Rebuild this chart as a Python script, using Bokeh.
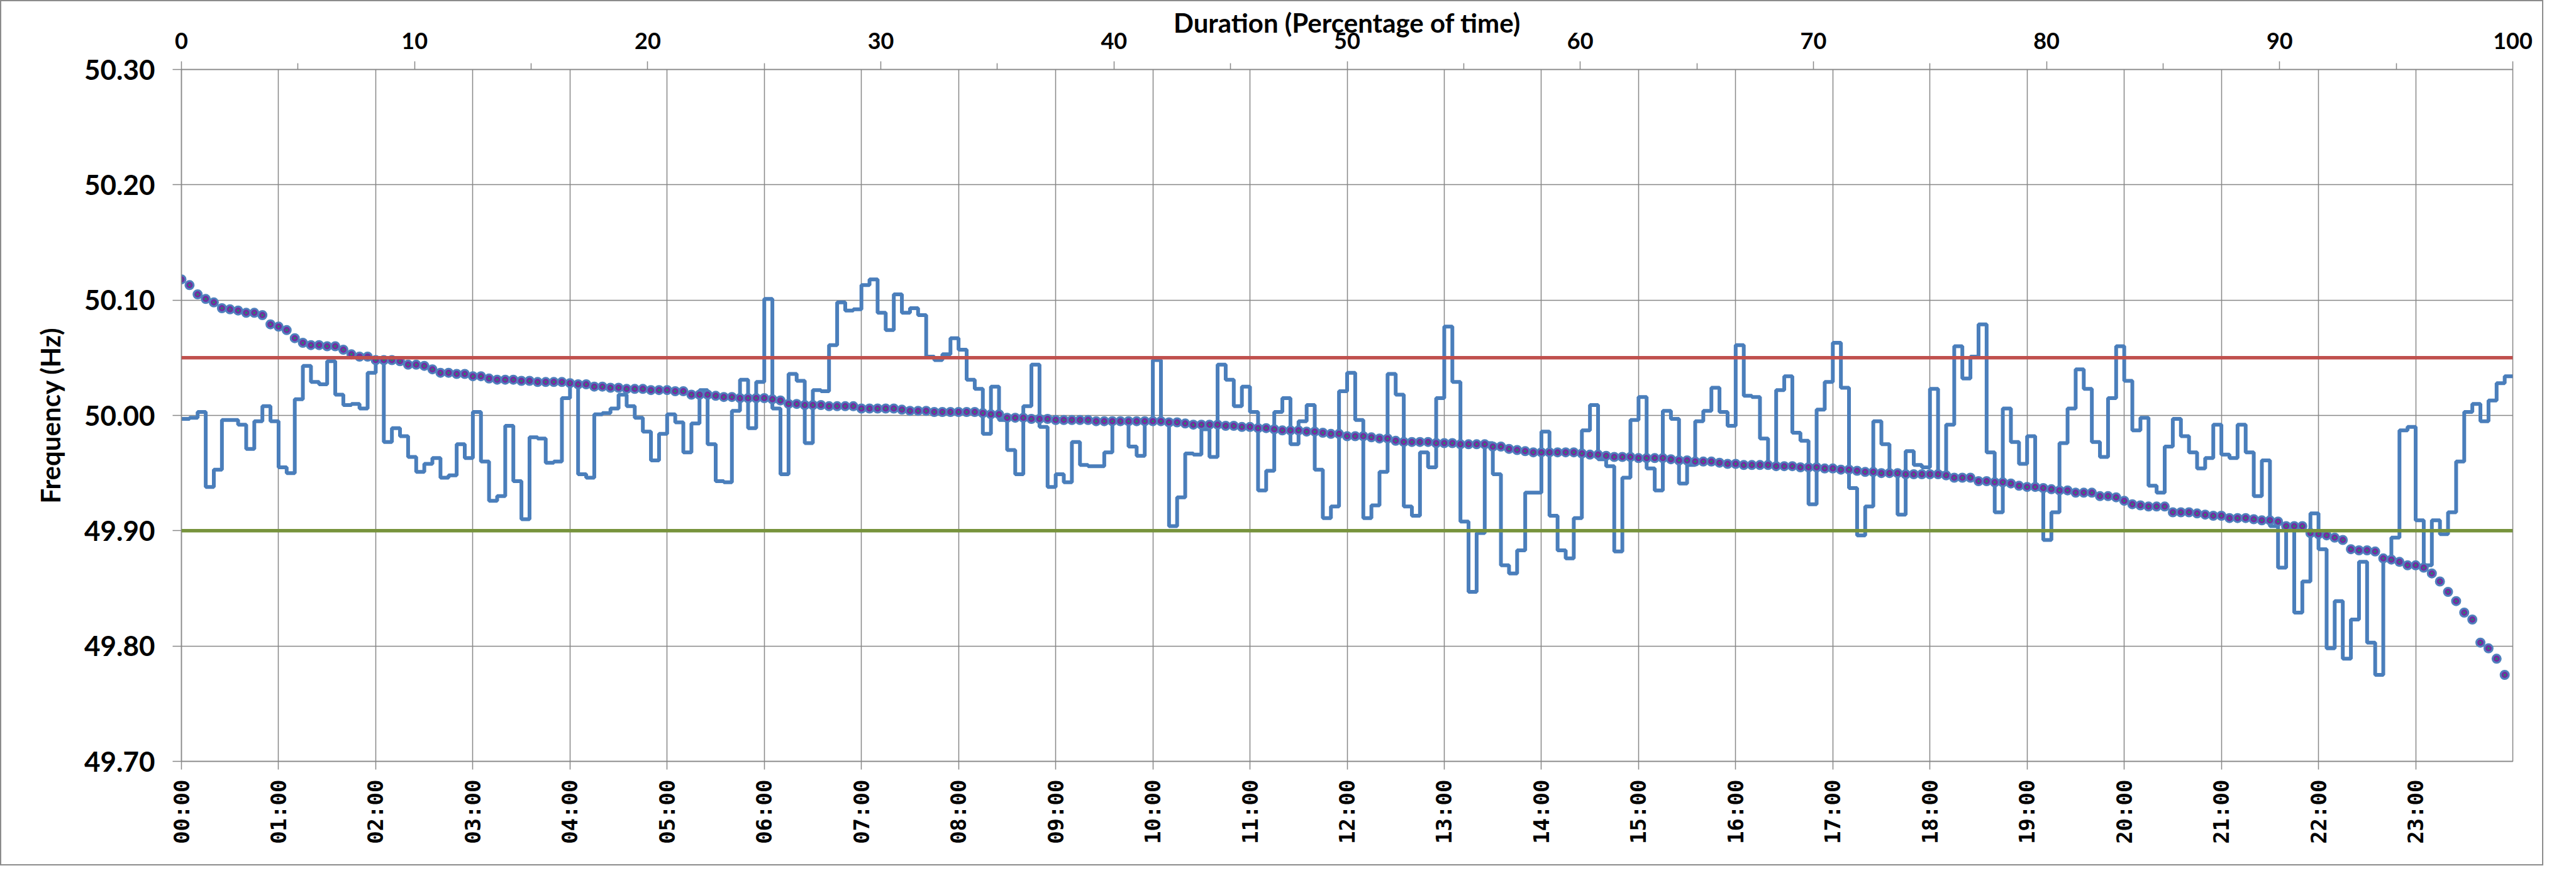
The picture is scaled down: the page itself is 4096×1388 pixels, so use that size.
from bokeh.plotting import figure
from bokeh.models import (Range1d, LinearAxis, FixedTicker, PrintfTickFormatter, Span)
from bokeh.embed import file_html
from bokeh.resources import INLINE

# ---------------- data ----------------
# 5-minute system frequency readings (Hz), 00:00 .. 23:55
freq_5min = [
    49.997, 49.998, 50.003, 49.938, 49.953, 49.996, 49.996, 49.992, 49.971, 49.995, 50.008, 49.995,
    49.955, 49.950, 50.014, 50.043, 50.029, 50.027, 50.047, 50.018, 50.009, 50.010, 50.006, 50.037,
    50.048, 49.977, 49.989, 49.982, 49.964, 49.951, 49.958, 49.963, 49.946, 49.948, 49.975, 49.963,
    50.003, 49.960, 49.926, 49.930, 49.991, 49.943, 49.910, 49.981, 49.980, 49.959, 49.960, 50.015,
    50.027, 49.949, 49.946, 50.001, 50.002, 50.006, 50.018, 50.008, 49.998, 49.986, 49.961, 49.984,
    50.001, 49.994, 49.968, 49.993, 50.022, 49.975, 49.943, 49.942, 50.004, 50.031, 49.989, 50.029,
    50.101, 50.006, 49.949, 50.036, 50.030, 49.976, 50.022, 50.021, 50.061, 50.098, 50.091, 50.092,
    50.113, 50.118, 50.089, 50.074, 50.105, 50.089, 50.093, 50.087, 50.051, 50.048, 50.053, 50.067,
    50.057, 50.031, 50.023, 49.984, 50.025, 49.996, 49.970, 49.949, 50.008, 50.044, 49.990, 49.938,
    49.949, 49.942, 49.977, 49.957, 49.956, 49.956, 49.968, 49.995, 49.994, 49.973, 49.965, 49.995,
    50.048, 49.995, 49.904, 49.929, 49.967, 49.966, 49.988, 49.964, 50.044, 50.031, 50.008, 50.025,
    50.003, 49.935, 49.952, 50.003, 50.015, 49.975, 49.995, 50.009, 49.953, 49.911, 49.921, 50.021,
    50.037, 49.996, 49.911, 49.922, 49.951, 50.036, 50.018, 49.921, 49.913, 49.968, 49.955, 50.015,
    50.077, 50.029, 49.908, 49.847, 49.898, 49.976, 49.949, 49.870, 49.863, 49.883, 49.933, 49.933,
    49.986, 49.913, 49.883, 49.876, 49.911, 49.987, 50.009, 49.962, 49.956, 49.882, 49.946, 49.996,
    50.016, 49.954, 49.935, 50.004, 49.997, 49.941, 49.957, 49.995, 50.004, 50.024, 50.003, 49.991,
    50.061, 50.017, 50.016, 49.980, 49.957, 50.022, 50.034, 49.985, 49.978, 49.923, 50.005, 50.029,
    50.063, 50.024, 49.937, 49.896, 49.921, 49.995, 49.975, 49.950, 49.914, 49.969, 49.957, 49.955,
    50.023, 49.950, 49.992, 50.060, 50.032, 50.051, 50.079, 49.968, 49.916, 50.006, 49.977, 49.958,
    49.982, 49.936, 49.892, 49.916, 49.976, 50.006, 50.040, 50.023, 49.977, 49.964, 50.015, 50.060,
    50.030, 49.987, 49.998, 49.939, 49.933, 49.973, 49.997, 49.982, 49.968, 49.954, 49.963, 49.992,
    49.966, 49.963, 49.992, 49.968, 49.930, 49.961, 49.904, 49.868, 49.904, 49.829, 49.856, 49.915,
    49.884, 49.798, 49.839, 49.789, 49.823, 49.873, 49.803, 49.775, 49.875, 49.894, 49.987, 49.990,
    49.909, 49.870, 49.909, 49.897, 49.916, 49.960, 50.003, 50.010, 49.995, 50.013, 50.028, 50.034,
]
hour_ticks = list(range(24))
hour_labels = ["%02d:00" % h for h in hour_ticks]
freq_ticks = [49.70, 49.80, 49.90, 50.00, 50.10, 50.20, 50.30]
pct_ticks = list(range(0, 101, 10))
pct_minor = list(range(5, 100, 10))
upper_limit = 50.05
lower_limit = 49.90

# derived series
n = len(freq_5min)
t_hours = [i / 12.0 for i in range(n + 1)]
f_step = freq_5min + [freq_5min[-1]]
dur_sorted = sorted(freq_5min, reverse=True)
dur_pct = [100.0 * i / n for i in range(n)]

# ---------------- figure ----------------
GRID = "#878787"
FONT = "Lato"

p = figure(width=4044, height=1376, output_backend="svg", toolbar_location=None,
           x_range=Range1d(0, 24), y_range=Range1d(49.70, 50.30),
           min_border_left=286, min_border_right=51, min_border_top=108, min_border_bottom=168,
           background_fill_color="white", border_fill_color="white")
p.styles = {"border": "2px solid #8c8c8c"}
p.extra_x_ranges = {"pct": Range1d(0, 100)}
p.outline_line_color = GRID
p.outline_line_width = 1.5

# bottom (time) axis
xa = p.xaxis[0]
xa.ticker = FixedTicker(ticks=hour_ticks)
xa.major_label_overrides = {h: lab for h, lab in zip(hour_ticks, hour_labels)}
xa.major_label_orientation = 3.14159265 / 2
xa.major_label_text_font = "DejaVu Sans Mono"
xa.major_label_text_font_style = "bold"
xa.major_label_text_font_size = "34px"
xa.major_label_text_color = "black"
xa.major_label_standoff = 16
xa.axis_line_color = GRID
xa.axis_line_width = 1.5
xa.major_tick_line_color = GRID
xa.major_tick_line_width = 1.5
xa.major_tick_in = 0
xa.major_tick_out = 13
xa.minor_tick_line_color = None

# left (frequency) axis
ya = p.yaxis[0]
ya.ticker = FixedTicker(ticks=freq_ticks)
ya.formatter = PrintfTickFormatter(format="%.2f")
ya.major_label_text_font = FONT
ya.major_label_text_font_style = "bold"
ya.major_label_text_font_size = "44px"
ya.major_label_text_color = "black"
ya.major_label_standoff = 28
ya.axis_line_color = GRID
ya.axis_line_width = 1.5
ya.major_tick_line_color = GRID
ya.major_tick_line_width = 1.5
ya.major_tick_in = 0
ya.major_tick_out = 14
ya.minor_tick_line_color = None
ya.axis_label = "Frequency (Hz)"
ya.axis_label_text_font = FONT
ya.axis_label_text_font_style = "bold"
ya.axis_label_text_font_size = "42px"
ya.axis_label_text_color = "black"
ya.axis_label_standoff = 26

# top (duration) axis
ta = LinearAxis(x_range_name="pct",
                ticker=FixedTicker(ticks=pct_ticks, minor_ticks=pct_minor))
ta.major_label_text_font = FONT
ta.major_label_text_font_style = "bold"
ta.major_label_text_font_size = "36px"
ta.major_label_text_color = "black"
ta.major_label_standoff = 20
ta.axis_line_color = GRID
ta.axis_line_width = 1.5
ta.major_tick_line_color = GRID
ta.major_tick_line_width = 1.5
ta.major_tick_in = 0
ta.major_tick_out = 13
ta.minor_tick_line_color = GRID
ta.minor_tick_line_width = 1.5
ta.minor_tick_in = 0
ta.minor_tick_out = 10
ta.axis_label = "Duration (Percentage of time)"
ta.axis_label_text_font = FONT
ta.axis_label_text_font_style = "bold"
ta.axis_label_text_font_size = "42px"
ta.axis_label_text_color = "black"
ta.axis_label_standoff = -12
p.add_layout(ta, "above")

# grids
p.xgrid[0].ticker = FixedTicker(ticks=hour_ticks)
p.xgrid.grid_line_color = GRID
p.xgrid.grid_line_width = 1.5
p.ygrid[0].ticker = FixedTicker(ticks=freq_ticks)
p.ygrid.grid_line_color = GRID
p.ygrid.grid_line_width = 1.5

# limit lines
p.add_layout(Span(location=upper_limit, dimension="width", line_color="#C0504D", line_width=5.5))
p.add_layout(Span(location=lower_limit, dimension="width", line_color="#77933C", line_width=5.5))

# frequency step trace
p.step(t_hours, f_step, mode="after", line_color="#4A7EBB", line_width=6)

# duration curve
p.scatter(dur_pct, dur_sorted, x_range_name="pct", size=13, fill_color="#7030A0",
          line_color="#4F81BD", line_width=3)
p.scatter(dur_pct, dur_sorted, x_range_name="pct", size=3, fill_color="#00B050",
          line_color=None)

open("out.html", "w").write(file_html(p, INLINE))
